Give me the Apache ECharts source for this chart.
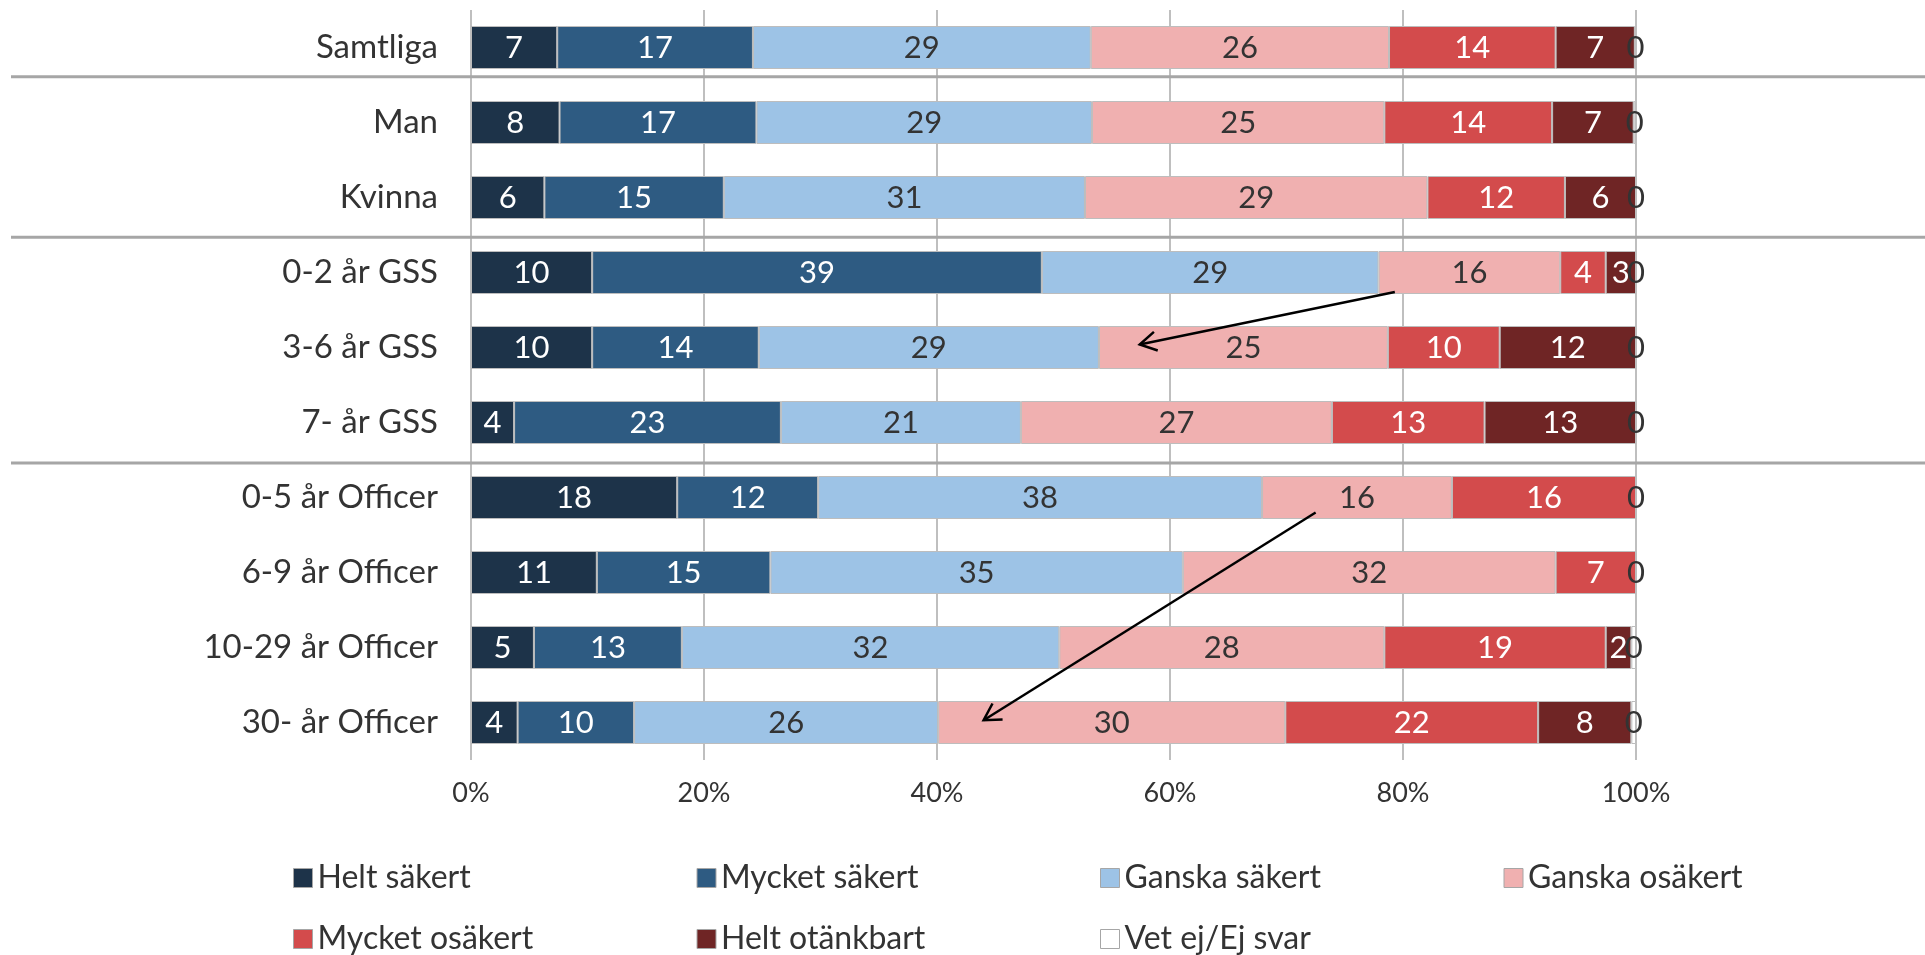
<!DOCTYPE html>
<html>
<head>
<meta charset="utf-8">
<script src="https://cdn.jsdelivr.net/npm/echarts@6/dist/echarts.min.js"></script>
<style>
html,body{margin:0;padding:0;background:#fff;}
#chart{width:1925px;height:955px;}
</style>
</head>
<body>
<div id="chart"></div>
<script>
const categories = ['Samtliga','Man','Kvinna','0-2 år GSS','3-6 år GSS','7- år GSS','0-5 år Officer','6-9 år Officer','10-29 år Officer','30- år Officer'];
const seriesNames = ['Helt säkert','Mycket säkert','Ganska säkert','Ganska osäkert','Mycket osäkert','Helt otänkbart','Vet ej/Ej svar'];
const heltSakert    = [7.4, 7.6, 6.3, 10.4, 10.4, 3.7, 17.7, 10.8, 5.4, 4.0];
const mycketSakert  = [16.8, 16.9, 15.4, 38.6, 14.3, 22.9, 12.1, 14.9, 12.7, 10.0];
const ganskaSakert  = [29.0, 28.8, 31.0, 28.9, 29.2, 20.6, 38.1, 35.4, 32.4, 26.1];
const ganskaOsakert = [25.6, 25.1, 29.4, 15.6, 24.8, 26.7, 16.3, 32.0, 27.9, 29.8];
const mycketOsakert = [14.3, 14.4, 11.8, 3.9, 9.6, 13.1, 15.8, 6.9, 19.0, 21.7];
const heltOtankbart = [6.8, 7.0, 6.1, 2.6, 11.7, 13.0, 0, 0, 2.2, 8.0];
const vetEj         = [0.1, 0.2, 0, 0, 0, 0, 0, 0, 0.4, 0.4];
const xTicks = [0, 20, 40, 60, 80, 100];

// annotations (axis units: x in %, y in category index)
const separatorsAt = [0.39, 2.53, 5.54];
const arrows = [
  {from: [79.3, 3.26], to: [57.4, 3.96]},
  {from: [72.5, 6.20], to: [44.0, 8.97]}
];

const colors = ['#1d3349','#2e5b82','#9dc3e6','#f0b0b0','#d34b4c','#6f2525','#ffffff'];
const labelColors = ['#fff','#fff','#333','#333','#fff','#fff','#333'];
const allData = [heltSakert, mycketSakert, ganskaSakert, ganskaOsakert, mycketOsakert, heltOtankbart, vetEj];
const FONT = 'Lato, "Open Sans", sans-serif';

const chart = echarts.init(document.getElementById('chart'));

const series = seriesNames.map((name, i) => ({
  name: name,
  type: 'bar',
  stack: 'total',
  barWidth: 43,
  data: allData[i],
  itemStyle: {color: colors[i], borderColor: '#bdbdbd', borderWidth: 1},
  label: {
    show: true,
    position: 'inside',
    color: labelColors[i],
    fontFamily: FONT,
    fontSize: 31,
    formatter: p => {
      const r = Math.round(p.value);
      if (i === 6) return String(r);
      return r > 0 ? String(r) : '';
    }
  },
  emphasis: {disabled: true},
  z: 2
}));

const legendText = {fontFamily: FONT, fontSize: 32, color: '#333', width: 369, lineHeight: 34};
const legendCommon = {
  orient: 'horizontal',
  left: 293,
  padding: 0,
  itemWidth: 19,
  itemHeight: 19,
  itemGap: 10,
  icon: 'rect',
  selectedMode: false,
  itemStyle: {borderColor: '#a6a6a6', borderWidth: 1},
  textStyle: legendText
};

chart.setOption({
  animation: false,
  backgroundColor: '#fff',
  grid: {left: 471, right: 289, top: 10, height: 750, containLabel: false},
  xAxis: {
    type: 'value',
    min: 0, max: 100, interval: 20,
    axisLine: {show: false},
    axisTick: {show: false},
    splitLine: {show: true, lineStyle: {color: '#bfbfbf', width: 2}},
    axisLabel: {
      margin: 20,
      fontFamily: FONT, fontSize: 27, color: '#333',
      formatter: v => xTicks.indexOf(v) >= 0 ? v + '%' : ''
    }
  },
  yAxis: {
    type: 'category',
    inverse: true,
    data: categories,
    axisLine: {show: false},
    axisTick: {show: false},
    axisLabel: {margin: 33, fontFamily: FONT, fontSize: 33, color: '#333'}
  },
  legend: [
    Object.assign({}, legendCommon, {top: 861, data: seriesNames.slice(0, 4)}),
    Object.assign({}, legendCommon, {top: 922, data: seriesNames.slice(4)})
  ],
  series: series
});

function yPix(idx) {
  const p0 = chart.convertToPixel({yAxisIndex: 0}, 0);
  const p1 = chart.convertToPixel({yAxisIndex: 0}, 1);
  return p0 + idx * (p1 - p0);
}
function xPix(v) { return chart.convertToPixel({xAxisIndex: 0}, v); }

const graphics = [];
const W = chart.getWidth();
separatorsAt.forEach(s => {
  const y = yPix(s);
  graphics.push({type: 'line', shape: {x1: 11, y1: y, x2: W, y2: y},
    style: {stroke: '#a6a6a6', lineWidth: 3}, z: 10});
});
arrows.forEach(a => {
  const x1 = xPix(a.from[0]), y1 = yPix(a.from[1]);
  const x2 = xPix(a.to[0]), y2 = yPix(a.to[1]);
  const ang = Math.atan2(y1 - y2, x1 - x2);
  const L = 19, spread = Math.PI / 6;
  graphics.push({type: 'line', shape: {x1: x1, y1: y1, x2: x2, y2: y2},
    style: {stroke: '#000', lineWidth: 2.5}, z: 20});
  graphics.push({type: 'polyline', shape: {points: [
      [x2 + L * Math.cos(ang + spread), y2 + L * Math.sin(ang + spread)],
      [x2, y2],
      [x2 + L * Math.cos(ang - spread), y2 + L * Math.sin(ang - spread)]
    ]}, style: {stroke: '#000', lineWidth: 2.5, fill: null}, z: 20});
});
chart.setOption({graphic: graphics});
</script>
</body>
</html>
